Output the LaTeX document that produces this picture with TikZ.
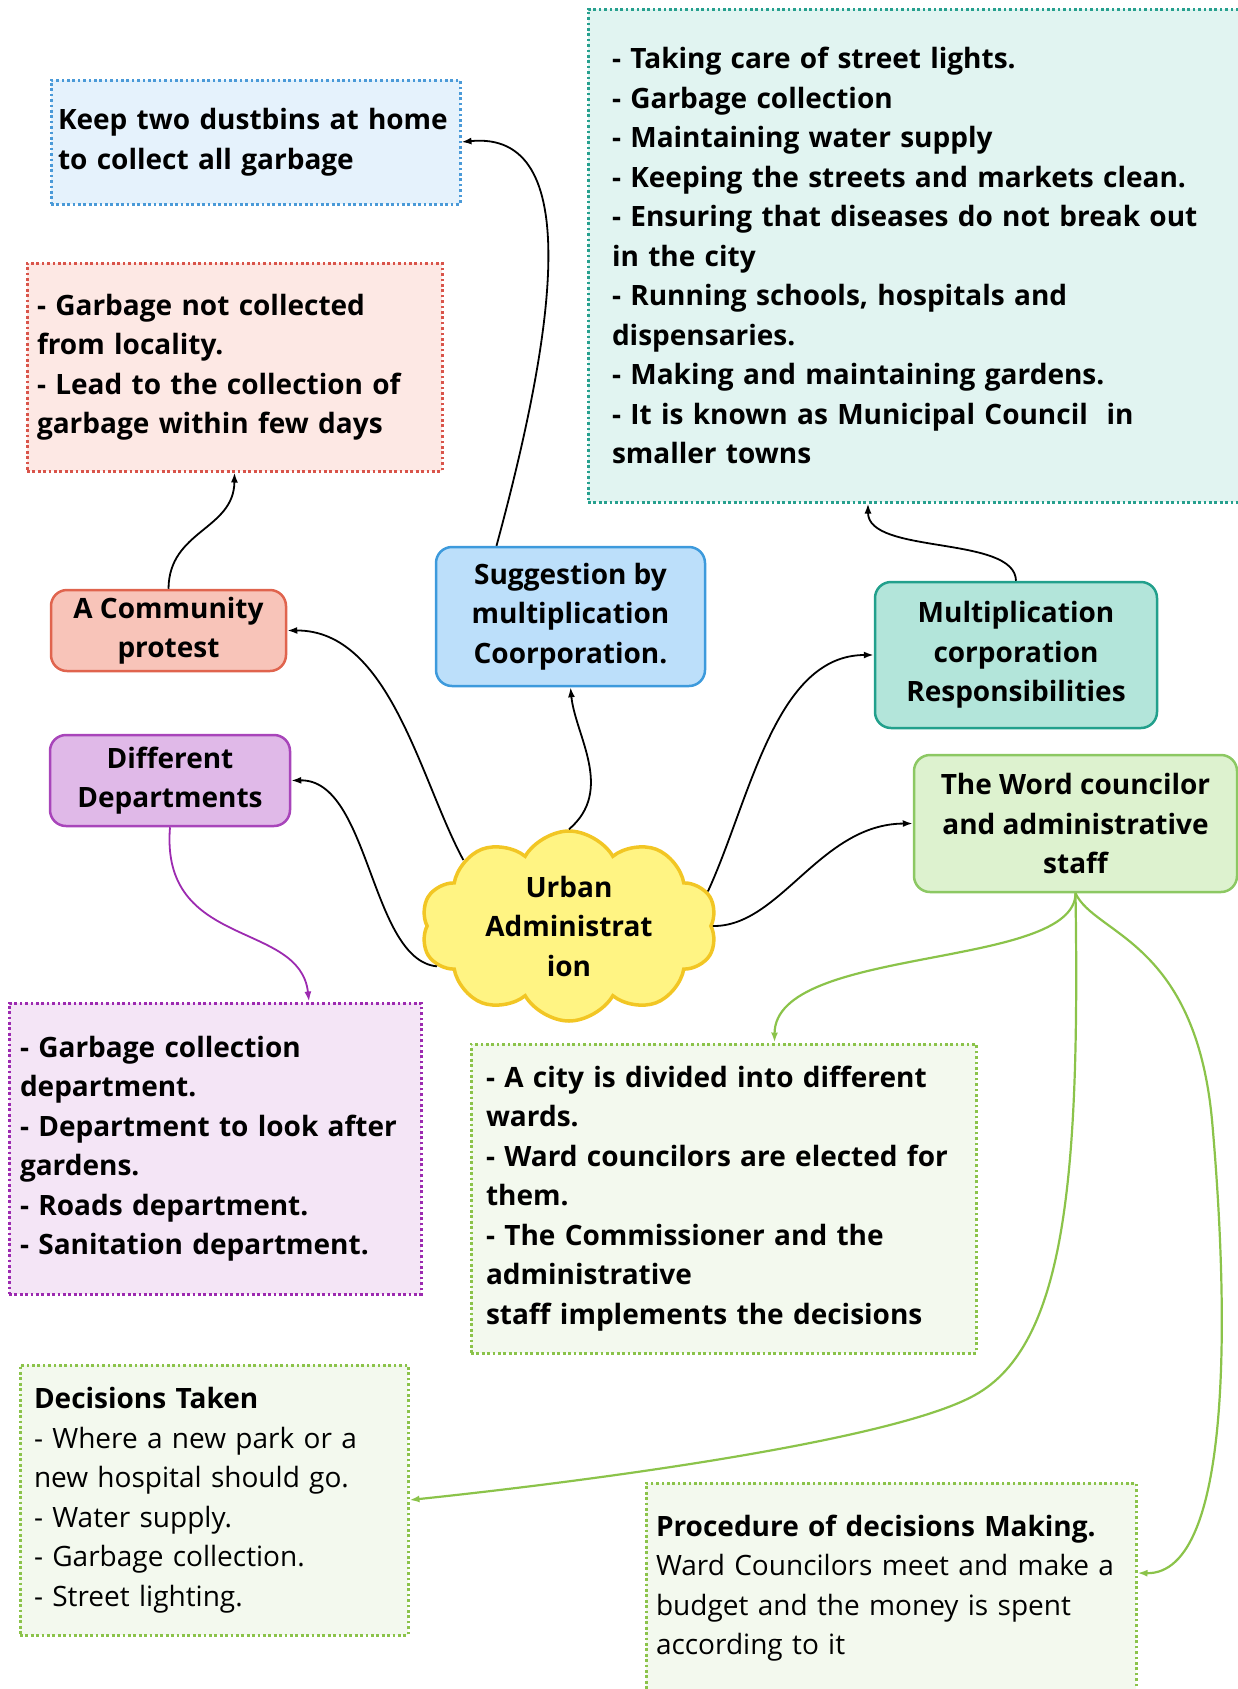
\documentclass[tikz,border=0pt]{standalone}
\usepackage{fontspec}
\setmainfont{Open Sans}
\usetikzlibrary{shapes.symbols,arrows.meta}

\definecolor{dustfill}{HTML}{E5F2FC}
\definecolor{dustline}{HTML}{4A9AD8}
\definecolor{protfill}{HTML}{FDE8E4}
\definecolor{protline}{HTML}{D9544A}
\definecolor{dutyfill}{HTML}{E1F4F1}
\definecolor{dutyline}{HTML}{26A08E}
\definecolor{commfill}{HTML}{F8C4B9}
\definecolor{commline}{HTML}{E0644E}
\definecolor{suggfill}{HTML}{BCDFFA}
\definecolor{suggline}{HTML}{3D9ADC}
\definecolor{multfill}{HTML}{B3E5DA}
\definecolor{multline}{HTML}{22A08C}
\definecolor{ddfill}{HTML}{E0B9E8}
\definecolor{ddline}{HTML}{A845BA}
\definecolor{wordfill}{HTML}{DDF2CF}
\definecolor{wordline}{HTML}{8CC863}
\definecolor{cloudfill}{HTML}{FFF483}
\definecolor{cloudline}{HTML}{F2C624}
\definecolor{deptfill}{HTML}{F4E5F6}
\definecolor{deptline}{HTML}{9C2AB0}
\definecolor{notefill}{HTML}{F3F9EE}
\definecolor{noteline}{HTML}{8BC34A}

\begin{document}
\begin{tikzpicture}[x=1pt, y=-1pt,
    every node/.style={font=\fontsize{28}{39.5}\selectfont\bfseries},
    topic/.style={draw, rounded corners=16pt, line width=2.5pt, align=center, inner sep=0pt},
    note/.style={draw, line width=3pt, dash pattern=on 2.7pt off 2.7pt, align=left, inner ysep=0pt},
    link/.style={-{Latex[length=10pt,width=7pt]}, line width=1.8pt, black},
    plink/.style={link, color=deptline},
    glink/.style={link, color=noteline, line width=2.2pt}]
    \useasboundingbox (0,0) rectangle (1238,1689);

    % notes
    \node[note, draw=dustline, fill=dustfill, minimum width=409pt, minimum height=124pt, inner xsep=7pt, text width=395pt] (dust) at (255.5,142) {Keep two dustbins at home\\to collect all garbage};
    \node[note, draw=protline, fill=protfill, minimum width=415pt, minimum height=208pt, inner xsep=10pt, text width=395pt] (protest) at (234.5,367) {- Garbage not collected\\from locality.\\- Lead to the collection of\\garbage within few days};
    \node[note, draw=dutyline, fill=dutyfill, minimum width=662pt, minimum height=493pt, inner xsep=24pt, text width=614pt] (duty) at (919,255.5) {- Taking care of street lights.\\- Garbage collection\\- Maintaining water supply\\- Keeping the streets and markets clean.\\- Ensuring that diseases do not break out\\in the city\\- Running schools, hospitals and\\dispensaries.\\- Making and maintaining gardens.\\- It is known as Municipal Council~ in\\smaller towns};

    % topics
    \node[topic, draw=commline, fill=commfill, minimum width=235pt, minimum height=81pt] (comm) at (168.5,630.5) {A Community\\protest};
    \node[topic, draw=suggline, fill=suggfill, minimum width=269pt, minimum height=139pt] (sugg) at (570.5,616.5) {Suggestion by\\multiplication\\Coorporation.};
    \node[topic, draw=multline, fill=multfill, minimum width=282pt, minimum height=146pt] (mult) at (1016,655) {Multiplication\\corporation\\Responsibilities};
    \node[topic, draw=ddline, fill=ddfill, minimum width=240pt, minimum height=91pt] (dd) at (170,780.5) {Different\\Departments};
    \node[topic, draw=wordline, fill=wordfill, minimum width=323pt, minimum height=137pt] (word) at (1075.5,823.5) {The Word councilor\\and administrative\\staff};

    % centre
    \node[cloud, cloud puffs=10, cloud puff arc=120, cloud ignores aspect, draw=cloudline, fill=cloudfill, line width=3.5pt, minimum width=296pt, minimum height=190pt, inner sep=0pt, align=center] (urban) at (569,926) {Urban\\Administrat\\ion};

    % lower notes
    \node[note, draw=deptline, fill=deptfill, minimum width=412pt, minimum height=291pt, inner xsep=11pt, text width=390pt] (dept) at (215,1148.5) {- Garbage collection\\department.\\- Department to look after\\gardens.\\- Roads department.\\- Sanitation department.};
    \node[note, draw=noteline, fill=notefill, minimum width=505pt, minimum height=309pt, inner xsep=15pt, text width=475pt] (ward) at (723.5,1198.5) {- A city is divided into different\\wards.\\- Ward councilors are elected for\\them.\\- The Commissioner and the\\administrative\\staff implements the decisions};
    \node[note, draw=noteline, fill=notefill, minimum width=388pt, minimum height=270pt, inner xsep=14pt, text width=360pt] (dec) at (214,1500) {Decisions Taken\\\mdseries - Where a new park or a\\new hospital should go.\\- Water supply.\\- Garbage collection.\\- Street lighting.};
    \node[note, draw=noteline, fill=notefill, minimum width=490pt, minimum height=210pt, inner xsep=10pt, text width=470pt] (proc) at (891,1588) {Procedure of decisions Making.\\\mdseries Ward Councilors meet and make a\\budget and the money is spent\\according to it};

    % links
    \draw[link] ([xshift=-74pt]sugg.north) .. controls (555,330) and (585,130) .. (dust.east);
    \draw[link] (comm.north) .. controls (169,530) and (234,530) .. (protest.south);
    \draw[link] (urban.148) .. controls (420,780) and (390,630) .. (comm.east);
    \draw[link] (urban.197) .. controls (370,960) and (370,779) .. (dd.east);
    \draw[link] (urban.north) .. controls (615,790) and (575,735) .. (sugg.south);
    \draw[link] (urban.14) .. controls (750,800) and (775,655) .. (mult.west);
    \draw[link] (urban.east) .. controls (780,927) and (820,824) .. (word.west);
    \draw[link] (mult.north) .. controls (1015,535) and (868,555) .. ([xshift=-51pt]duty.south);
    \draw[plink] (dd.south) .. controls (160,950) and (300,920) .. ([xshift=94pt]dept.north);
    \draw[glink] (word.south) .. controls (1075,970) and (775,945) .. ([xshift=51pt]ward.north);
    \draw[glink] (word.south) .. controls (1080,1180) and (1065,1345) .. (975,1395) .. controls (895,1440) and (600,1480) .. (dec.east);
    \draw[glink] (word.south) .. controls (1095,935) and (1195,940) .. (1212,1120) .. controls (1228,1300) and (1235,1575) .. ([yshift=15pt]proc.east);
\end{tikzpicture}
\end{document}
